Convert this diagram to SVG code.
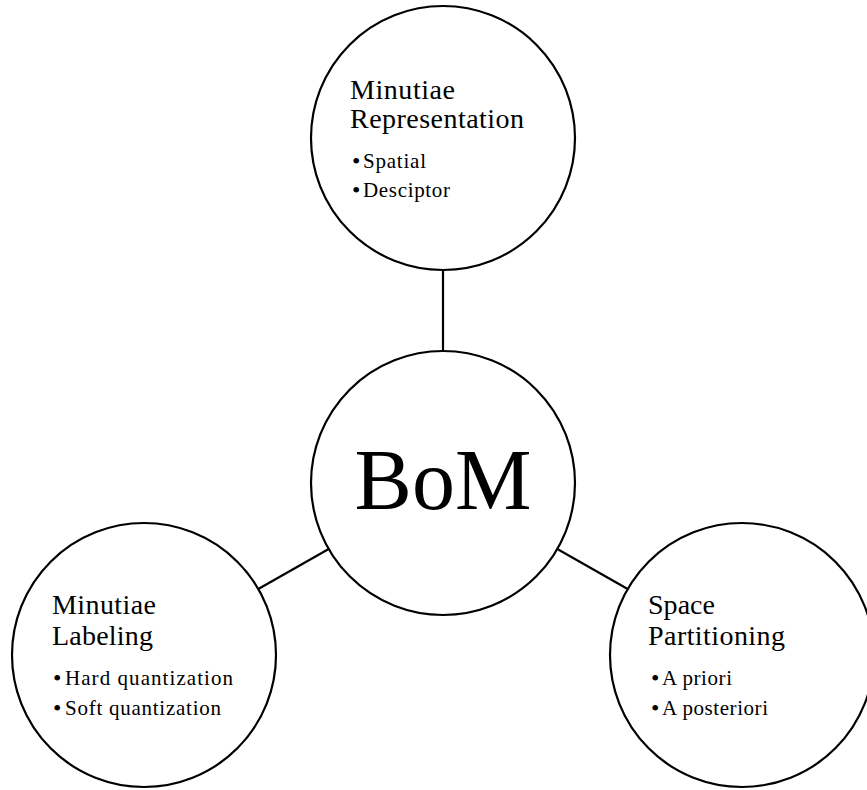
<svg xmlns="http://www.w3.org/2000/svg" width="867" height="790" viewBox="0 0 867 790">
<style>
.c{fill:#fff;stroke:#000;stroke-width:2.2}
.l{stroke:#000;stroke-width:2.2;fill:none}
.h{font-family:"Liberation Serif","Times New Roman",serif;font-size:28px;fill:#000}
.b{font-family:"Liberation Serif","Times New Roman",serif;font-size:21px;fill:#000}
.d{font-family:"Liberation Serif","Times New Roman",serif;font-size:24px;fill:#000}
.m{font-family:"Liberation Serif","Times New Roman",serif;font-size:86px;fill:#000}
</style>
<rect width="867" height="790" fill="#fff"/>
<g id="connectors">
<line class="l" x1="443" y1="270" x2="443" y2="351"/>
<line class="l" x1="328.7" y1="549" x2="258.3" y2="589"/>
<line class="l" x1="557.3" y1="549" x2="627.7" y2="589"/>
</g>
<g id="node-top">
<circle class="c" cx="443" cy="138" r="132"/>
<text class="h" x="350" y="99" textLength="105" lengthAdjust="spacing">Minutiae</text>
<text class="h" x="350" y="128" textLength="174" lengthAdjust="spacing">Representation</text>
<text class="d" x="352" y="169">•</text><text class="b" x="363" y="168" textLength="63" lengthAdjust="spacing">Spatial</text>
<text class="d" x="352" y="198">•</text><text class="b" x="363" y="197" textLength="87" lengthAdjust="spacing">Desciptor</text>
</g>
<g id="node-center">
<circle class="c" cx="443" cy="483" r="132"/>
<text class="m" x="443" y="509" text-anchor="middle">BoM</text>
</g>
<g id="node-left">
<circle class="c" cx="144" cy="655" r="132"/>
<text class="h" x="52" y="614" textLength="104" lengthAdjust="spacing">Minutiae</text>
<text class="h" x="52" y="645" textLength="101" lengthAdjust="spacing">Labeling</text>
<text class="d" x="53" y="686">•</text><text class="b" x="65" y="685" textLength="168" lengthAdjust="spacing">Hard quantization</text>
<text class="d" x="53" y="716">•</text><text class="b" x="65" y="715" textLength="156" lengthAdjust="spacing">Soft quantization</text>
</g>
<g id="node-right">
<circle class="c" cx="742" cy="655" r="132"/>
<text class="h" x="648" y="614" textLength="67" lengthAdjust="spacing">Space</text>
<text class="h" x="648" y="645" textLength="137" lengthAdjust="spacing">Partitioning</text>
<text class="d" x="651" y="686">•</text><text class="b" x="662" y="685" textLength="70" lengthAdjust="spacing">A priori</text>
<text class="d" x="651" y="716">•</text><text class="b" x="662" y="715" textLength="106" lengthAdjust="spacing">A posteriori</text>
</g>
</svg>
